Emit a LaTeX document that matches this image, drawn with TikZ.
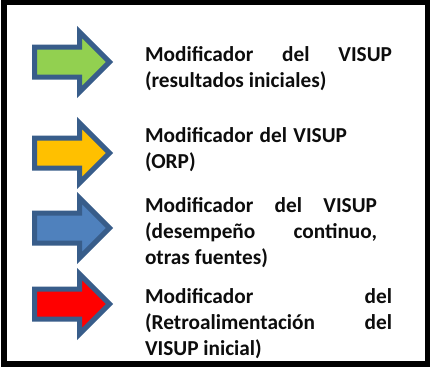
\documentclass[tikz,border=0pt]{standalone}
\usepackage{fontspec}
\setmainfont{Carlito}
\newcommand{\jl}[2]{\hbox to #1pt{#2}}
\tikzset{
  frame/.style={draw=black,line width=5.5pt,fill=white,miter limit=10},
  label/.style={anchor=north west,inner sep=0pt,outer sep=0pt,align=left,font=\bfseries\fontsize{21.3}{26}\selectfont,text=black!95},
  blockarrow/.pic={
    \draw[draw=arrowedge,line width=5pt,miter limit=10,fill=\pgfkeysvalueof{/tikz/arrowfill}]
      (34.5,-15) -- (79.5,-15) -- (79.5,-30) -- (109.5,0) -- (79.5,30) -- (79.5,15) -- (34.5,15) -- cycle;
  },
  arrowfill/.initial=white
}
\definecolor{arrowedge}{HTML}{385D8A}
\definecolor{agreen}{HTML}{92D050}
\definecolor{aorange}{HTML}{FFC000}
\definecolor{ablue}{HTML}{4F81BD}
\definecolor{ared}{HTML}{FF0000}
\begin{document}
\begin{tikzpicture}[x=1pt,y=-1pt]
\useasboundingbox (0,0) rectangle (435,368);
\draw[frame] (3.8,1.8) rectangle (427.5,364);
\pic[arrowfill=agreen] at (0,62) {blockarrow};
\pic[arrowfill=aorange] at (0,153) {blockarrow};
\pic[arrowfill=ablue] at (0,228) {blockarrow};
\pic[arrowfill=ared] at (0,304) {blockarrow};
\node[label] (t1) at (145,46.5) {\jl{247}{Modificador\hfill del\hfill VISUP}\\(resultados iniciales)};
\node[label] (t2) at (145,127.5) {\jl{202}{Modificador\hfill del\hfill VISUP}\\(ORP)};
\node[label] (t3) at (145,198) {\jl{232}{Modificador\hfill del\hfill VISUP}\\\jl{232}{(desempeño\hfill continuo,}\\otras fuentes)};
\node[label] (t4) at (145,289) {\jl{247}{Modificador\hfill del}\\\jl{247}{(Retroalimentación\hfill del}\\VISUP inicial)};
\end{tikzpicture}
\end{document}
